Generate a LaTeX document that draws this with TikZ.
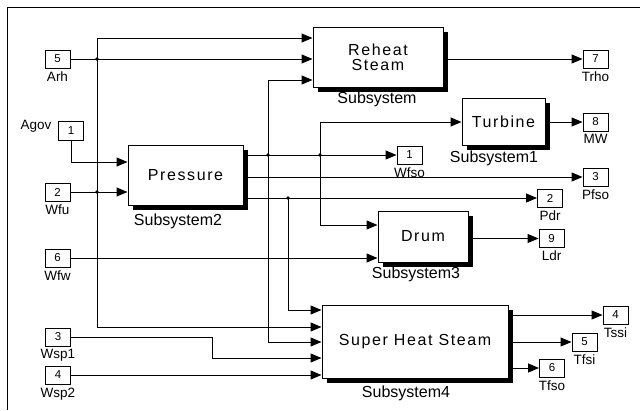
\documentclass[tikz,border=0pt]{standalone}
\usepackage{fontspec}
\setmainfont{Liberation Sans}
\newfontfamily\blkfont[LetterSpace=10]{Liberation Sans}
\usetikzlibrary{arrows.meta,shadows}
\begin{document}
\begin{tikzpicture}[x=1pt,y=-1pt,
  port/.style={draw, fill=white, line width=0.9pt, minimum width=25pt, minimum height=18pt, inner sep=0pt, font=\fontsize{11.5}{12}\selectfont},
  blk/.style={draw, fill=white, line width=1pt, inner sep=0pt, align=center,
    general shadow={fill=black, shadow xshift=4.5pt, shadow yshift=-4.5pt},
    font=\blkfont\fontsize{16}{15}\selectfont},
  plab/.style={inner sep=0pt, font=\fontsize{13.5}{14}\selectfont},
  slab/.style={inner sep=0pt, font=\fontsize{16}{16}\selectfont},
  wire/.style={line width=1pt},
  arr/.style={wire, -{Triangle[length=11pt,width=9pt]}},
  dot/.style={circle, fill=black, inner sep=0pt, minimum size=3.6pt}
]
\useasboundingbox (0,0) rectangle (640,410);
\draw[line width=0.8pt] (7,410) -- (7,7) -- (640,7);

% ---- blocks
\node[blk, minimum width=130pt, minimum height=60pt] (reheat) at (378,57) {Reheat\\Steam};
\node[blk, minimum width=83pt, minimum height=47pt] (turbine) at (503.5,122) {Turbine};
\node[blk, minimum width=115pt, minimum height=60pt] (pressure) at (185.5,175) {Pressure};
\node[blk, minimum width=90pt, minimum height=51pt] (drum) at (423,236.5) {Drum};
\node[blk, minimum width=186pt, minimum height=73pt] (sh) at (415,341.5) {Super Heat Steam};

\node[slab] (lrh) at (377,99) {Subsystem};
\node[slab] (ltu) at (494,158) {Subsystem1};
\node[slab] (lpr) at (178,221) {Subsystem2};
\node[slab] (ldr) at (416,274) {Subsystem3};
\node[slab] (lsh) at (406,393) {Subsystem4};

% ---- inports
\node[port] (in5) at (57.5,59) {5};
\node[port, minimum height=19pt] (in1) at (71,130.5) {1};
\node[port] (in2) at (57.5,192) {2};
\node[port] (in6) at (57.5,258) {6};
\node[port] (in3) at (58,337) {3};
\node[port] (in4) at (58,375) {4};
\node[plab] (agov) at (36,126) {Agov};
\node[plab, anchor=north, yshift=-3pt] (larh) at (in5.south) {Arh};
\node[plab, anchor=north, yshift=-3pt] (lwfu) at (in2.south) {Wfu};
\node[plab, anchor=north, yshift=-3pt] (lwfw) at (in6.south) {Wfw};
\node[plab, anchor=north, yshift=-3pt] (lwsp1) at (in3.south) {Wsp1};
\node[plab, anchor=north, yshift=-3pt] (lwsp2) at (in4.south) {Wsp2};

% ---- outports
\node[port] (out7) at (595.5,59) {7};
\node[port] (out8) at (595.5,122) {8};
\node[port] (out1) at (409.5,155) {1};
\node[port] (out3) at (595.5,177) {3};
\node[port] (out2) at (550,198) {2};
\node[port] (out9) at (551.5,238.5) {9};
\node[port] (out4) at (615.5,315) {4};
\node[port] (out5) at (584.5,342) {5};
\node[port] (out6) at (552,368) {6};
\node[plab, anchor=north, yshift=-3pt] (ltrho) at (out7.south) {Trho};
\node[plab, anchor=north, yshift=-3pt] (lmw) at (out8.south) {MW};
\node[plab, anchor=north, yshift=-3pt] (lwfso) at (out1.south) {Wfso};
\node[plab, anchor=north, yshift=-3pt] (lpfso) at (out3.south) {Pfso};
\node[plab, anchor=north, yshift=-3pt] (lpdr) at (out2.south) {Pdr};
\node[plab, anchor=north, yshift=-3pt] (lldr) at (out9.south) {Ldr};
\node[plab, anchor=north, yshift=-3pt] (ltssi) at (out4.south) {Tssi};
\node[plab, anchor=north, yshift=-3pt] (ltfsi) at (out5.south) {Tfsi};
\node[plab, anchor=north, yshift=-3pt] (ltfso) at (out6.south) {Tfso};

% ---- block ports
\coordinate (rh-i1) at (reheat.west |- 0,38);
\coordinate (rh-i2) at (reheat.west |- 0,59);
\coordinate (rh-i3) at (reheat.west |- 0,80);
\coordinate (rh-o) at (reheat.east |- 0,59);
\coordinate (tu-i) at (turbine.west);
\coordinate (tu-o) at (turbine.east);
\coordinate (pr-i1) at (pressure.west |- 0,162);
\coordinate (pr-i2) at (pressure.west |- 0,192);
\coordinate (pr-o1) at (pressure.east |- 0,155);
\coordinate (pr-o2) at (pressure.east |- 0,177);
\coordinate (pr-o3) at (pressure.east |- 0,198);
\coordinate (dr-i1) at (drum.west |- 0,225);
\coordinate (dr-i2) at (drum.west |- 0,258);
\coordinate (dr-o) at (drum.east |- 0,238.5);
\coordinate (sh-i1) at (sh.west |- 0,310);
\coordinate (sh-i2) at (sh.west |- 0,327);
\coordinate (sh-i3) at (sh.west |- 0,342);
\coordinate (sh-i4) at (sh.west |- 0,358);
\coordinate (sh-i5) at (sh.west |- 0,375);
\coordinate (sh-o1) at (sh.east |- 0,315);
\coordinate (sh-o2) at (sh.east |- 0,342);
\coordinate (sh-o3) at (sh.east |- 0,368);

% ---- branch points
\coordinate (j5) at (97,59);
\coordinate (j2) at (97,192);
\coordinate (ja) at (268,155);
\coordinate (jb) at (320,155);
\coordinate (jc) at (288,198);

% ---- wires
\draw[arr] (in5.east) -- (rh-i2);
\draw[arr] (j5) |- (rh-i1);
\draw[wire] (j5) -- (j2);
\draw[arr] (j2) |- (sh-i2);
\draw[arr] (in1.south) |- (pr-i1);
\draw[arr] (in2.east) -- (pr-i2);
\draw[arr] (in6.east) -- (dr-i2);
\draw[arr] (in3.east) -- (in3.east -| 212,0) |- (sh-i4);
\draw[arr] (in4.east) -- (sh-i5);

\draw[arr] (pr-o1) -- (out1.west);
\draw[arr] (ja) |- (rh-i3);
\draw[arr] (ja) |- (sh-i3);
\draw[arr] (jb) |- (tu-i);
\draw[arr] (jb) |- (dr-i1);
\draw[arr] (pr-o2) -- (out3.west);
\draw[arr] (pr-o3) -- (out2.west);
\draw[arr] (jc) |- (sh-i1);

\draw[arr] (rh-o) -- (out7.west);
\draw[arr] (tu-o) -- (out8.west);
\draw[arr] (dr-o) -- (out9.west);
\draw[arr] (sh-o1) -- (out4.west);
\draw[arr] (sh-o2) -- (out5.west);
\draw[arr] (sh-o3) -- (out6.west);

\node[dot] at (j5) {};
\node[dot] at (j2) {};
\node[dot] at (ja) {};
\node[dot] at (jb) {};
\node[dot] at (jc) {};
\end{tikzpicture}
\end{document}
